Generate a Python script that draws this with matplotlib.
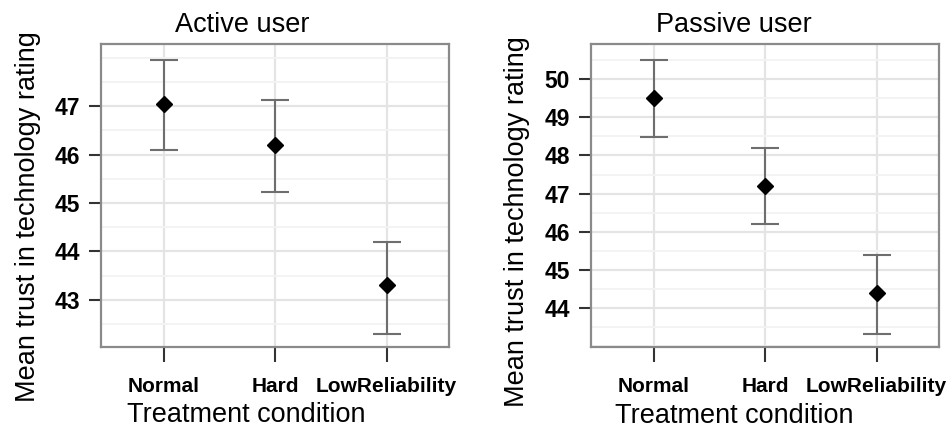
import matplotlib
matplotlib.use("Agg")
import matplotlib.pyplot as plt
from matplotlib.ticker import MultipleLocator

plt.rcParams['font.family'] = ['Liberation Sans', 'DejaVu Sans']

categories = ["Normal", "Hard", "LowReliability"]
active_means = [47.05, 46.2, 43.3]
active_lower = [46.1, 45.22, 42.3]
active_upper = [47.95, 47.12, 44.2]
passive_means = [49.5, 47.2, 44.4]
passive_lower = [48.48, 46.2, 43.33]
passive_upper = [50.5, 48.2, 45.4]
active_yticks = [43, 44, 45, 46, 47]
passive_yticks = [44, 45, 46, 47, 48, 49, 50]
titles = ["Active user", "Passive user"]
ylabel = "Mean trust in technology rating"
xlabel = "Treatment condition"

W, H = 948, 428
fig = plt.figure(figsize=(W / 100, H / 100), dpi=100)

panels = [
    dict(left=101, means=active_means, lo=active_lower, hi=active_upper,
         yticks=active_yticks, ylim=(42.03, 48.28), title=titles[0],
         tx=242, ylx=28, yly=217, xlx=246, xly=415),
    dict(left=591, means=passive_means, lo=passive_lower, hi=passive_upper,
         yticks=passive_yticks, ylim=(42.98, 50.92), title=titles[1],
         tx=734, ylx=517, yly=222, xlx=734, xly=416),
]

frame_col = "#8a8a8a"
for p in panels:
    ax = fig.add_axes([p['left'] / W, 1 - 347 / H, 348 / W, 303 / H])
    x = list(range(len(categories)))
    yerr = [[m - l for m, l in zip(p['means'], p['lo'])],
            [h - m for m, h in zip(p['means'], p['hi'])]]
    ax.errorbar(x, p['means'], yerr=yerr, fmt='none', ecolor="#6e6e6e",
                elinewidth=1.5, capsize=10, capthick=1.5, zorder=3)
    ax.plot(x, p['means'], linestyle='none', marker='D', color='black',
            markersize=8.5, zorder=4)
    ax.set_xlim(-0.565, 2.56)
    ax.set_ylim(*p['ylim'])
    ax.set_xticks(x)
    ax.set_xticklabels(categories)
    ax.set_yticks(p['yticks'])
    ax.yaxis.set_minor_locator(MultipleLocator(0.5))
    ax.grid(True, which='major', color="#e4e4e4", linewidth=1.6, zorder=0)
    ax.grid(True, which='minor', axis='y', color="#f3f3f3", linewidth=1.4, zorder=0)
    ax.set_axisbelow(True)
    ax.tick_params(axis='y', which='minor', length=0)
    ax.tick_params(axis='both', which='major', direction='out', width=1.5,
                   color="#333333")
    ax.tick_params(axis='x', length=10.5, pad=11, labelsize=15)
    ax.tick_params(axis='y', length=9, pad=6, labelsize=16.5)
    for lab in ax.get_xticklabels() + ax.get_yticklabels():
        lab.set_fontweight('bold')
    for s in ax.spines.values():
        s.set_color(frame_col)
        s.set_linewidth(1.6)
    fig.text(p['tx'] / W, 1 - 25 / H, p['title'], ha='center', va='center',
             fontsize=19.5)
    fig.text(p['ylx'] / W, 1 - p['yly'] / H, ylabel, ha='center', va='center',
             rotation=90, fontsize=19.5)
    fig.text(p['xlx'] / W, 1 - p['xly'] / H, xlabel, ha='center', va='center',
             fontsize=19.5)

fig.savefig("out.png", dpi=100, facecolor='white')
